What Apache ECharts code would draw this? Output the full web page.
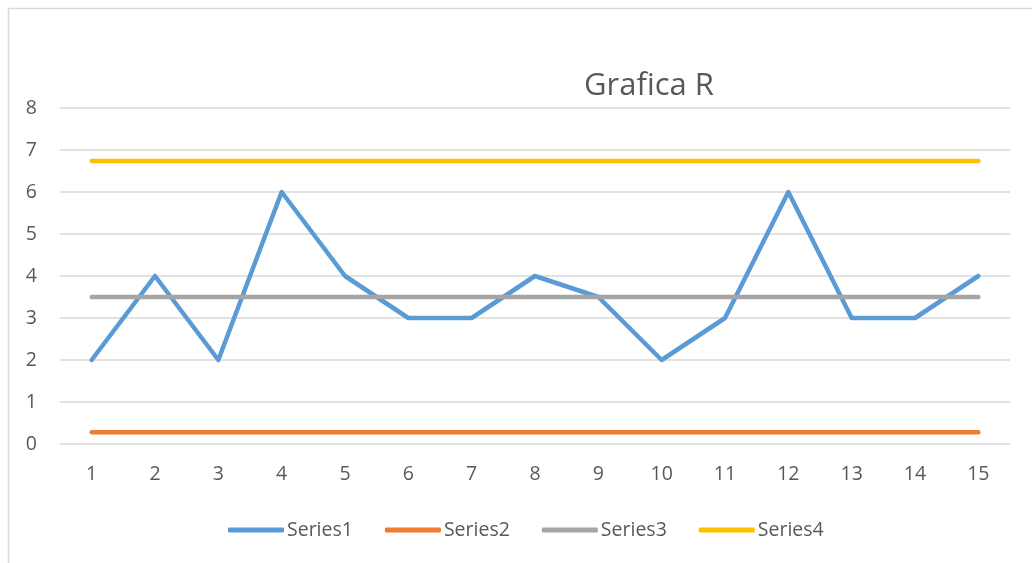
<!DOCTYPE html>
<html>
<head>
<meta charset="utf-8">
<script src="https://cdn.jsdelivr.net/npm/echarts@6/dist/echarts.min.js"></script>
<style>
  html, body { margin: 0; padding: 0; background: #fff; }
  #main { width: 1032px; height: 563px; }
</style>
</head>
<body>
<div id="main"></div>
<script>
// datos de la grafica
var categories = ['1','2','3','4','5','6','7','8','9','10','11','12','13','14','15'];
var series1 = [2, 4, 2, 6, 4, 3, 3, 4, 3.5, 2, 3, 6, 3, 3, 4];
var series2 = [0.28, 0.28, 0.28, 0.28, 0.28, 0.28, 0.28, 0.28, 0.28, 0.28, 0.28, 0.28, 0.28, 0.28, 0.28];
var series3 = [3.5, 3.5, 3.5, 3.5, 3.5, 3.5, 3.5, 3.5, 3.5, 3.5, 3.5, 3.5, 3.5, 3.5, 3.5];
var series4 = [6.74, 6.74, 6.74, 6.74, 6.74, 6.74, 6.74, 6.74, 6.74, 6.74, 6.74, 6.74, 6.74, 6.74, 6.74];
var seriesNames = ['Series1', 'Series2', 'Series3', 'Series4'];
var colors = ['#5B9BD5', '#ED7D31', '#A5A5A5', '#FFC000'];

var font = '"Open Sans", "Liberation Sans", sans-serif';
var chart = echarts.init(document.getElementById('main'));

function line(name, data, color) {
    return {
        name: name,
        type: 'line',
        data: data,
        symbol: 'none',
        color: color,
        lineStyle: { width: 4.5, color: color, cap: 'round', join: 'round' },
        emphasis: { disabled: true }
    };
}

var option = {
    animation: false,
    color: colors,
    graphic: [{
        type: 'rect',
        shape: { x: 8.5, y: 8.5, width: 1040, height: 570 },
        style: { fill: 'none', stroke: '#d9d9d9', lineWidth: 1.5 },
        silent: true
    }],
    title: {
        text: 'Grafica R',
        left: 644,
        top: 66,
        textAlign: 'center',
        textStyle: { fontFamily: font, fontSize: 31, fontWeight: 'normal', color: '#595959' }
    },
    legend: {
        data: seriesNames,
        left: 228,
        top: 520,
        padding: 0,
        itemWidth: 56,
        itemHeight: 5,
        itemGap: 32,
        icon: 'roundRect',
        textStyle: { fontFamily: font, fontSize: 19.5, color: '#595959', padding: [0, 0, 0, -2] }
    },
    grid: { left: 60, right: 22, top: 108, bottom: 119 },
    xAxis: {
        type: 'category',
        data: categories,
        boundaryGap: true,
        axisLine: { show: false },
        axisTick: { show: false },
        axisLabel: { fontFamily: font, fontSize: 19.5, color: '#595959', margin: 20 }
    },
    yAxis: {
        type: 'value',
        min: 0,
        max: 8,
        interval: 1,
        axisLine: { show: false },
        axisTick: { show: false },
        axisLabel: { fontFamily: font, fontSize: 19.5, color: '#595959', margin: 23 },
        splitLine: { lineStyle: { color: '#d9d9d9', width: 1.5 } }
    },
    series: [
        line(seriesNames[0], series1, colors[0]),
        line(seriesNames[1], series2, colors[1]),
        line(seriesNames[2], series3, colors[2]),
        line(seriesNames[3], series4, colors[3])
    ]
};
chart.setOption(option);
</script>
</body>
</html>
